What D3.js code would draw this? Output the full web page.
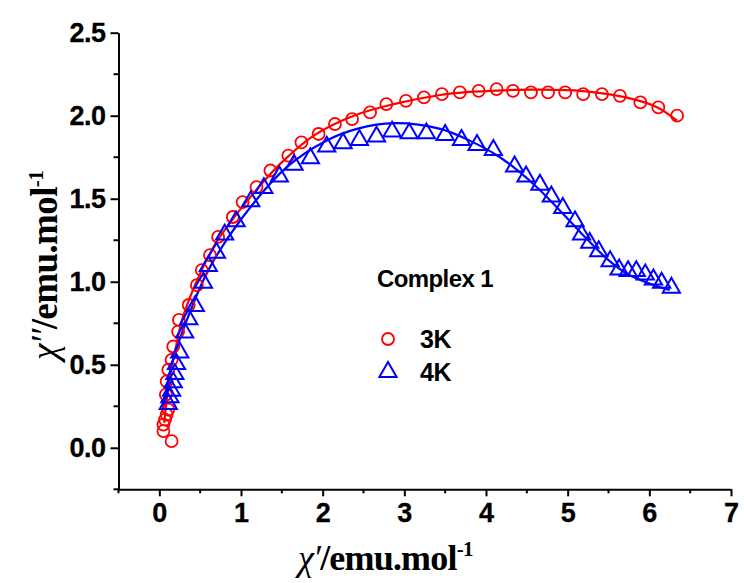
<!DOCTYPE html>
<html>
<head>
<meta charset="utf-8">
<script src="https://cdn.jsdelivr.net/npm/d3@7/dist/d3.min.js"></script>
<style>
  html, body { margin: 0; padding: 0; background: #fff; }
  svg { display: block; }
  .tick text { font-family: "Liberation Sans", Arial, sans-serif; font-weight: bold; font-size: 27px; fill: #000; stroke: #000; stroke-width: 0.3px; }
</style>
</head>
<body>
<svg id="chart" width="744" height="583"></svg>
<script>
// Cole-Cole plot: chi'' vs chi' at 3 K and 4 K
const seriesNames = ["3K", "4K"];
const seriesColors = ["#ff0000", "#0000ff"];

// measured points, 3 K (chi', chi'')
const x3K = [0.15, 0.05, 0.05, 0.07, 0.09, 0.11, 0.08, 0.09, 0.11, 0.15, 0.17, 0.23, 0.24, 0.36, 0.46, 0.52, 0.62, 0.72, 0.90, 1.02, 1.19, 1.36, 1.58, 1.74, 1.95, 2.15, 2.36, 2.58, 2.78, 3.02, 3.24, 3.46, 3.68, 3.91, 4.13, 4.33, 4.55, 4.76, 4.97, 5.19, 5.42, 5.64, 5.89, 6.11, 6.34];
const y3K = [0.04, 0.10, 0.14, 0.17, 0.20, 0.23, 0.32, 0.40, 0.47, 0.53, 0.61, 0.70, 0.77, 0.86, 0.98, 1.07, 1.16, 1.27, 1.39, 1.48, 1.57, 1.67, 1.76, 1.84, 1.89, 1.95, 1.98, 2.02, 2.07, 2.09, 2.11, 2.13, 2.14, 2.15, 2.16, 2.15, 2.14, 2.14, 2.14, 2.13, 2.13, 2.12, 2.08, 2.05, 2.00];

// measured points, 4 K
const x4K = [0.11, 0.13, 0.15, 0.17, 0.19, 0.21, 0.25, 0.31, 0.36, 0.44, 0.54, 0.60, 0.70, 0.80, 0.94, 1.12, 1.28, 1.47, 1.65, 1.85, 2.05, 2.25, 2.45, 2.66, 2.85, 3.06, 3.27, 3.50, 3.70, 3.89, 4.09, 4.35, 4.49, 4.66, 4.80, 4.94, 5.09, 5.17, 5.27, 5.38, 5.52, 5.63, 5.74, 5.84, 5.95, 6.05, 6.15, 6.27];
const y4K = [0.27, 0.31, 0.35, 0.40, 0.45, 0.51, 0.58, 0.70, 0.78, 0.86, 1.00, 1.10, 1.18, 1.29, 1.37, 1.49, 1.57, 1.64, 1.71, 1.75, 1.82, 1.84, 1.86, 1.88, 1.91, 1.90, 1.90, 1.89, 1.86, 1.83, 1.80, 1.70, 1.64, 1.59, 1.52, 1.45, 1.37, 1.29, 1.24, 1.19, 1.13, 1.08, 1.07, 1.07, 1.05, 1.02, 1.00, 0.97];

// fitted curves
const fitX3K = [0.06, 0.12, 0.20, 0.29, 0.50, 0.70, 0.95, 1.20, 1.48, 1.89, 2.38, 2.87, 3.44, 3.76, 4.20, 4.58, 5.19, 5.80, 6.10, 6.34];
const fitY3K = [0.15, 0.40, 0.60, 0.79, 1.05, 1.24, 1.41, 1.56, 1.71, 1.88, 2.00, 2.07, 2.125, 2.142, 2.153, 2.157, 2.148, 2.10, 2.05, 1.97];
const fitX4K = [0.05, 0.15, 0.335, 0.60, 0.99, 1.56, 2.05, 2.42, 2.87, 3.44, 3.80, 4.17, 4.60, 5.00, 5.23, 5.50, 5.72, 6.00, 6.25];
const fitY4K = [0.24, 0.50, 0.767, 1.07, 1.369, 1.69, 1.851, 1.921, 1.955, 1.921, 1.85, 1.75, 1.58, 1.38, 1.26, 1.13, 1.05, 0.99, 0.95];

const xTicks = [0, 1, 2, 3, 4, 5, 6, 7];
const yTicks = [0.0, 0.5, 1.0, 1.5, 2.0, 2.5];
const xMinor = [-0.5, 0.5, 1.5, 2.5, 3.5, 4.5, 5.5, 6.5];
const yMinor = [-0.25, 0.25, 0.75, 1.25, 1.75, 2.25];

const legendTitle = "Complex 1";

const svg = d3.select("#chart");
const x = d3.scaleLinear().domain([-0.5, 7]).range([118.5, 731]);
const y = d3.scaleLinear().domain([-0.25, 2.5]).range([489.3, 32.7]);

// axes
const gx = svg.append("g").attr("transform", `translate(0,${y(-0.25)})`);
gx.call(d3.axisBottom(x).tickValues(xTicks).tickSize(7).tickSizeOuter(0).tickPadding(5).tickFormat(d3.format("d")));
gx.append("g").selectAll("line").data(xMinor).join("line")
  .attr("x1", d => x(d)).attr("x2", d => x(d)).attr("y1", 0).attr("y2", 4)
  .attr("stroke", "#000").attr("stroke-width", 2);

const gy = svg.append("g").attr("transform", `translate(${x(-0.5)},0)`);
gy.call(d3.axisLeft(y).tickValues(yTicks).tickSize(8).tickSizeOuter(0).tickPadding(5).tickFormat(d3.format(".1f")));
gy.append("g").selectAll("line").data(yMinor).join("line")
  .attr("y1", d => y(d)).attr("y2", d => y(d)).attr("x1", 0).attr("x2", -5)
  .attr("stroke", "#000").attr("stroke-width", 2);

svg.selectAll(".domain").attr("stroke", "#000").attr("stroke-width", 2);
svg.selectAll(".tick line").attr("stroke", "#000").attr("stroke-width", 2);
gx.selectAll(".tick text").attr("dy", "0.75em");
gy.selectAll(".tick text").style("letter-spacing", "-0.5px");

// fit lines
const line = d3.line().x(d => x(d[0])).y(d => y(d[1])).curve(d3.curveCatmullRom.alpha(0.5));
const fits = [d3.zip(fitX3K, fitY3K), d3.zip(fitX4K, fitY4K)];
svg.append("g").selectAll("path").data(fits).join("path")
  .attr("d", line).attr("fill", "none")
  .attr("stroke", (d, i) => seriesColors[i]).attr("stroke-width", 2.2);

// markers
const circleSym = d3.symbol().type(d3.symbolCircle).size(113);
const triSym = d3.symbol().type(d3.symbolTriangle).size(128);

svg.append("g").selectAll("path").data(d3.zip(x3K, y3K)).join("path")
  .attr("d", circleSym).attr("transform", d => `translate(${x(d[0])},${y(d[1])})`)
  .attr("fill", "none").attr("stroke", seriesColors[0]).attr("stroke-width", 1.8);

svg.append("g").selectAll("path").data(d3.zip(x4K, y4K)).join("path")
  .attr("d", triSym).attr("transform", d => `translate(${x(d[0])},${y(d[1]) + 1})`)
  .attr("fill", "none").attr("stroke", seriesColors[1]).attr("stroke-width", 2);

// legend
const lg = svg.append("g").style("font-family", "'Liberation Sans', Arial, sans-serif").style("font-weight", "bold");
lg.append("text").attr("x", 377).attr("y", 287).attr("font-size", 24).style("letter-spacing", "-0.6px").text(legendTitle);
const syms = [circleSym, triSym];
seriesNames.forEach((name, i) => {
  const cy = 339 + i * 33;
  lg.append("path").attr("d", syms[i]).attr("transform", `translate(388,${cy})`)
    .attr("fill", "none").attr("stroke", seriesColors[i]).attr("stroke-width", i ? 2 : 1.8);
  lg.append("text").attr("x", 420).attr("y", cy + 9).attr("font-size", 25).style("letter-spacing", "-0.5px").text(name);
});

// axis titles
const titleFont = "'Liberation Serif', 'Times New Roman', serif";
const xt = svg.append("text").attr("x", 298).attr("y", 570)
  .style("font-family", titleFont).style("font-weight", "bold").attr("font-size", 36)
  .style("letter-spacing", "-0.8px");
xt.append("tspan").style("font-style", "italic").style("font-weight", "normal").text("χ");
xt.append("tspan").style("font-style", "italic").style("font-weight", "normal").text("′");
xt.append("tspan").text("/emu.mol");
xt.append("tspan").attr("dy", -14).attr("font-size", 21).text("-1");

const yt = svg.append("text").attr("transform", "translate(57,360) rotate(-90)")
  .style("font-family", titleFont).style("font-weight", "bold").attr("font-size", 37)
  .style("letter-spacing", "-0.6px");
yt.append("tspan").style("font-style", "italic").style("font-weight", "normal").text("χ");
yt.append("tspan").style("font-style", "italic").style("font-weight", "normal").text("′′");
yt.append("tspan").text("/emu.mol");
yt.append("tspan").attr("dy", -14).attr("font-size", 21).text("-1");
</script>
</body>
</html>
